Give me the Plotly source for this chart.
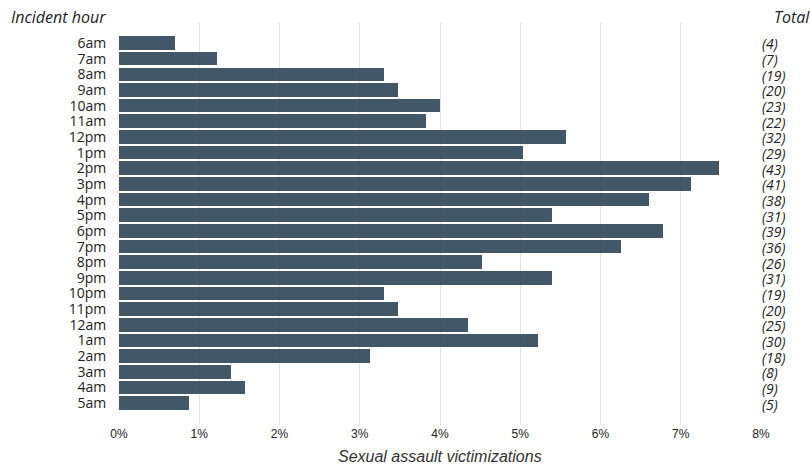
import plotly.graph_objects as go

hours = ["6am", "7am", "8am", "9am", "10am", "11am", "12pm", "1pm", "2pm", "3pm", "4pm", "5pm",
         "6pm", "7pm", "8pm", "9pm", "10pm", "11pm", "12am", "1am", "2am", "3am", "4am", "5am"]
pct = [0.70, 1.22, 3.30, 3.48, 4.00, 3.83, 5.57, 5.04, 7.48, 7.13, 6.61, 5.39,
       6.78, 6.26, 4.52, 5.39, 3.30, 3.48, 4.35, 5.22, 3.13, 1.39, 1.57, 0.87]
totals = [4, 7, 19, 20, 23, 22, 32, 29, 43, 41, 38, 31, 39, 36, 26, 31, 19, 20, 25, 30, 18, 8, 9, 5]
xticks = [0, 1, 2, 3, 4, 5, 6, 7, 8]
xticklabels = ["0%", "1%", "2%", "3%", "4%", "5%", "6%", "7%", "8%"]

ypos = list(range(len(hours)))

fig = go.Figure()
fig.add_trace(go.Bar(
    x=pct, y=ypos, orientation="h", width=0.87,
    marker=dict(color="rgba(52,75,90,0.93)", line=dict(width=0)),
    hoverinfo="skip",
))

for i, t in enumerate(totals):
    fig.add_annotation(x=8, y=i, xref="x", yref="y", text="<i>(%d)</i>" % t, showarrow=False,
                       xanchor="left", xshift=0, borderpad=0,
                       font=dict(family="Open Sans", size=14, color="#222"), yshift=-1)

fig.add_annotation(x=0, y=1, xref="paper", yref="paper", text="<i>Incident hour</i>", showarrow=False,
                   xanchor="left", yanchor="middle", xshift=-110, yshift=5,
                   font=dict(family="Open Sans", size=16, color="#222"))
fig.add_annotation(x=1, y=1, xref="paper", yref="paper", text="<i>Total</i>", showarrow=False,
                   xanchor="left", yanchor="middle", xshift=11, yshift=5,
                   font=dict(family="Open Sans", size=16, color="#222"))
fig.add_annotation(x=0.5, y=0, xref="paper", yref="paper", text="<i>Sexual assault victimizations</i>",
                   showarrow=False, xanchor="center", yanchor="middle", yshift=-31, borderpad=0,
                   font=dict(family="Liberation Sans", size=16, color="#333"))

fig.update_layout(
    width=811, height=465,
    margin=dict(l=119, r=50, t=22, b=40),
    plot_bgcolor="white", paper_bgcolor="white",
    showlegend=False, bargap=0, hovermode=False,
    xaxis=dict(range=[0, 8], tickvals=xticks, ticktext=xticklabels, showgrid=True,
               gridcolor="#e3e3e3", gridwidth=1, zeroline=False, showline=False,
               ticks="", tickfont=dict(family="Liberation Sans", size=12, color="#222")),
    yaxis=dict(range=[24.39, -1.34], tickvals=ypos, ticktext=hours, showgrid=False,
               zeroline=False, showline=False, ticks="outside", ticklen=9,
               tickcolor="rgba(0,0,0,0)",
               tickfont=dict(family="Open Sans", size=14, color="#222")),
)

fig.write_html("out.html", config={"displayModeBar": False},
               post_script="document.body.style.margin='0';")
